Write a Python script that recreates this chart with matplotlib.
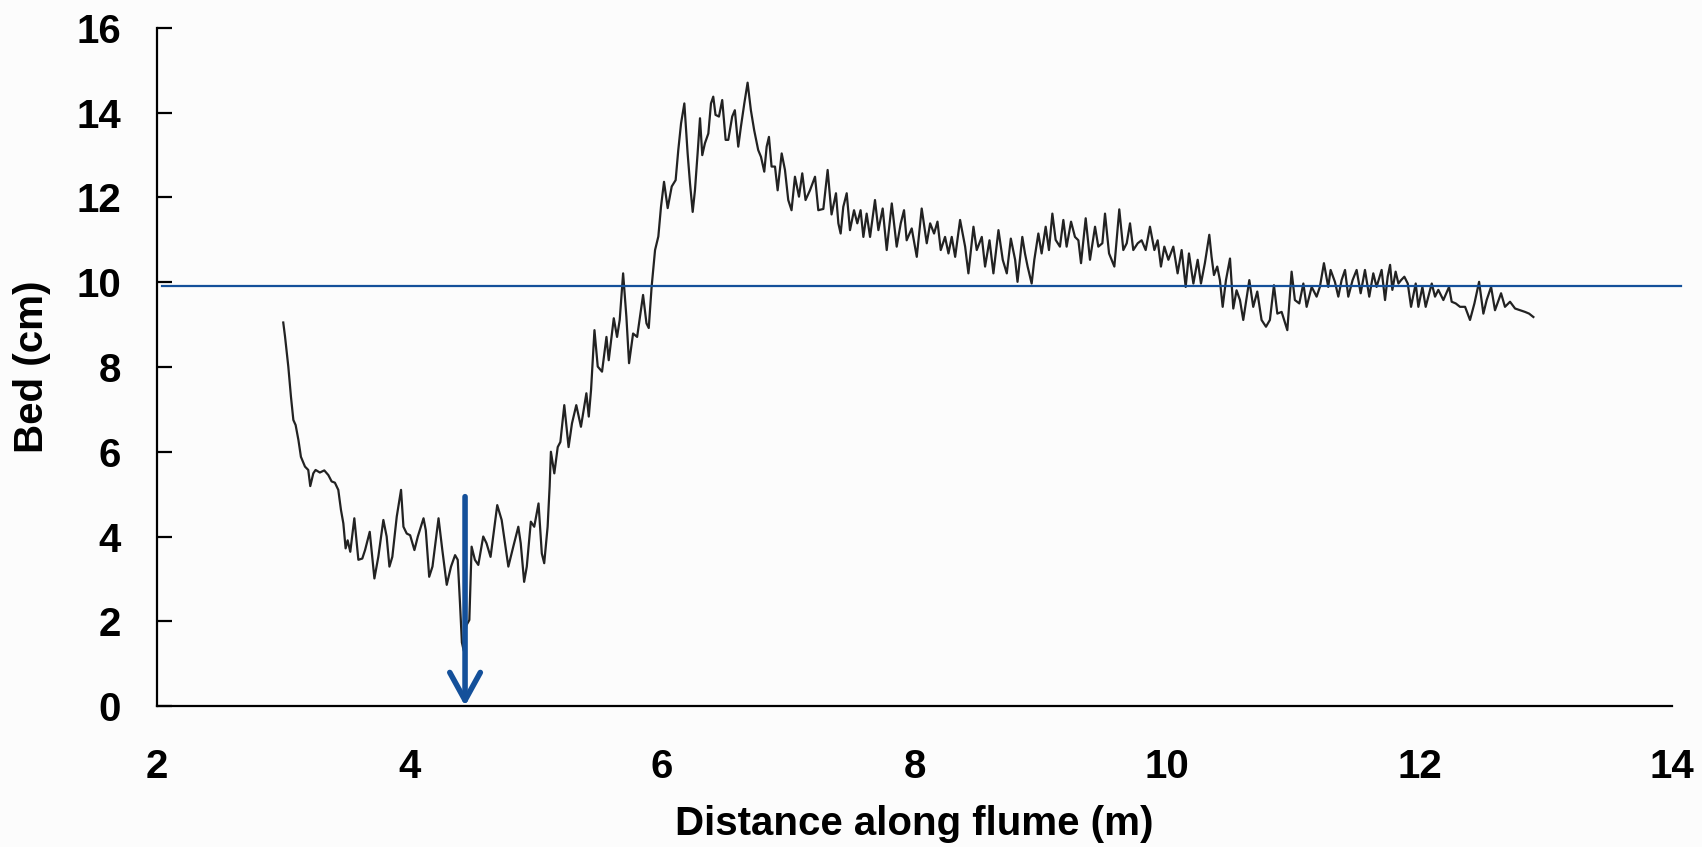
import numpy as np
import matplotlib
matplotlib.use('Agg')
import matplotlib.pyplot as plt

# bed profile (distance along flume in m, bed level in cm)
dist_m = [
    3.000, 3.014, 3.040, 3.061, 3.080, 3.098, 3.120, 3.140, 3.172, 3.198,
    3.214, 3.238, 3.256, 3.290, 3.325, 3.357, 3.383, 3.409, 3.436, 3.457,
    3.476, 3.494, 3.510, 3.531, 3.563, 3.595, 3.626, 3.648, 3.685, 3.722,
    3.753, 3.793, 3.819, 3.841, 3.864, 3.899, 3.933, 3.952, 3.978, 4.005,
    4.039, 4.066, 4.111, 4.129, 4.156, 4.182, 4.230, 4.260, 4.295, 4.329,
    4.361, 4.382, 4.400, 4.415, 4.430, 4.450, 4.474, 4.492, 4.518, 4.545,
    4.584, 4.610, 4.642, 4.695, 4.730, 4.783, 4.822, 4.862, 4.881, 4.908,
    4.929, 4.961, 4.988, 5.022, 5.048, 5.067, 5.094, 5.110, 5.120, 5.147,
    5.174, 5.195, 5.226, 5.260, 5.287, 5.321, 5.358, 5.401, 5.420, 5.438,
    5.465, 5.491, 5.525, 5.560, 5.578, 5.618, 5.644, 5.665, 5.692, 5.718,
    5.739, 5.771, 5.803, 5.850, 5.877, 5.895, 5.918, 5.945, 5.971, 5.992,
    6.016, 6.045, 6.077, 6.108, 6.129, 6.151, 6.177, 6.203, 6.222, 6.243,
    6.261, 6.282, 6.301, 6.319, 6.340, 6.367, 6.388, 6.406, 6.424, 6.451,
    6.477, 6.504, 6.525, 6.556, 6.577, 6.604, 6.625, 6.652, 6.678, 6.704,
    6.730, 6.762, 6.784, 6.810, 6.829, 6.847, 6.868, 6.895, 6.916, 6.948,
    6.974, 7.000, 7.026, 7.053, 7.085, 7.111, 7.137, 7.172, 7.212, 7.238,
    7.278, 7.312, 7.343, 7.378, 7.397, 7.415, 7.436, 7.463, 7.489, 7.521,
    7.547, 7.573, 7.595, 7.621, 7.648, 7.687, 7.714, 7.748, 7.780, 7.820,
    7.859, 7.891, 7.917, 7.938, 7.978, 8.018, 8.057, 8.097, 8.124, 8.155,
    8.182, 8.208, 8.242, 8.269, 8.295, 8.322, 8.361, 8.401, 8.427, 8.467,
    8.493, 8.533, 8.559, 8.594, 8.625, 8.665, 8.699, 8.731, 8.763, 8.797,
    8.816, 8.854, 8.875, 8.896, 8.928, 8.949, 8.981, 9.007, 9.039, 9.065,
    9.092, 9.118, 9.152, 9.179, 9.205, 9.240, 9.271, 9.298, 9.319, 9.356,
    9.390, 9.430, 9.456, 9.488, 9.509, 9.541, 9.583, 9.622, 9.654, 9.681,
    9.707, 9.733, 9.768, 9.799, 9.831, 9.865, 9.900, 9.926, 9.952, 9.979,
    10.011, 10.050, 10.084, 10.116, 10.148, 10.174, 10.209, 10.243, 10.269, 10.300,
    10.335, 10.353, 10.372, 10.398, 10.419, 10.441, 10.467, 10.499, 10.525, 10.551,
    10.578, 10.604, 10.652, 10.683, 10.715, 10.749, 10.784, 10.815, 10.847, 10.874,
    10.908, 10.953, 10.987, 11.013, 11.048, 11.080, 11.106, 11.146, 11.185, 11.211,
    11.243, 11.277, 11.296, 11.330, 11.357, 11.383, 11.410, 11.436, 11.470, 11.502,
    11.534, 11.568, 11.602, 11.634, 11.660, 11.700, 11.727, 11.748, 11.767, 11.785,
    11.811, 11.833, 11.854, 11.880, 11.907, 11.933, 11.970, 11.991, 12.023, 12.049,
    12.097, 12.123, 12.149, 12.189, 12.234, 12.255, 12.287, 12.321, 12.361, 12.400,
    12.435, 12.472, 12.506, 12.532, 12.567, 12.598, 12.646, 12.677, 12.717, 12.757,
    12.796, 12.836, 12.868, 12.902,
]
bed_cm = [
    9.05, 8.72, 8.01, 7.30, 6.75, 6.63, 6.28, 5.88, 5.65, 5.57,
    5.19, 5.49, 5.57, 5.51, 5.56, 5.45, 5.30, 5.27, 5.10, 4.63,
    4.31, 3.72, 3.91, 3.64, 4.43, 3.45, 3.48, 3.68, 4.11, 3.01,
    3.52, 4.39, 4.00, 3.29, 3.52, 4.47, 5.10, 4.23, 4.07, 4.03,
    3.68, 4.00, 4.43, 4.15, 3.05, 3.29, 4.43, 3.68, 2.86, 3.29,
    3.56, 3.45, 2.42, 1.50, 1.30, 1.90, 2.03, 3.76, 3.45, 3.33,
    4.00, 3.84, 3.52, 4.74, 4.39, 3.29, 3.76, 4.23, 3.84, 2.93,
    3.29, 4.35, 4.23, 4.78, 3.60, 3.37, 4.23, 5.18, 6.00, 5.49,
    6.11, 6.23, 7.10, 6.11, 6.67, 7.10, 6.59, 7.38, 6.83, 7.46,
    8.87, 8.01, 7.89, 8.71, 8.16, 9.15, 8.71, 9.11, 10.21, 9.18,
    8.09, 8.79, 8.71, 9.70, 9.03, 8.92, 9.90, 10.76, 11.08, 11.78,
    12.37, 11.75, 12.26, 12.41, 13.12, 13.75, 14.22, 13.04, 12.33, 11.66,
    12.17, 13.04, 13.87, 13.00, 13.28, 13.51, 14.22, 14.38, 13.95, 13.91,
    14.30, 13.36, 13.36, 13.91, 14.06, 13.20, 13.67, 14.22, 14.71, 14.06,
    13.59, 13.12, 12.96, 12.61, 13.20, 13.43, 12.73, 12.73, 12.17, 13.04,
    12.65, 11.94, 11.70, 12.49, 12.02, 12.57, 11.94, 12.17, 12.49, 11.70,
    11.73, 12.65, 11.60, 12.10, 11.39, 11.15, 11.78, 12.10, 11.23, 11.70,
    11.39, 11.70, 11.07, 11.62, 11.07, 11.94, 11.23, 11.74, 10.76, 11.86,
    10.84, 11.39, 11.70, 10.99, 11.27, 10.60, 11.74, 10.92, 11.39, 11.15,
    11.43, 10.76, 11.07, 10.68, 11.07, 10.60, 11.47, 10.84, 10.21, 11.31,
    10.76, 11.07, 10.37, 10.99, 10.21, 11.23, 10.53, 10.21, 11.03, 10.53,
    10.01, 11.07, 10.68, 10.37, 9.97, 10.53, 11.15, 10.68, 11.31, 10.76,
    11.62, 11.00, 10.84, 11.47, 10.84, 11.43, 11.07, 10.99, 10.45, 11.51,
    10.53, 11.31, 10.84, 10.92, 11.62, 10.68, 10.37, 11.72, 10.76, 10.92,
    11.39, 10.76, 10.92, 10.99, 10.76, 11.31, 10.76, 10.99, 10.37, 10.84,
    10.53, 10.84, 10.21, 10.76, 9.89, 10.68, 9.97, 10.53, 9.97, 10.45,
    11.12, 10.60, 10.17, 10.37, 10.05, 9.42, 10.05, 10.56, 9.38, 9.81,
    9.58, 9.11, 10.05, 9.42, 9.78, 9.11, 8.95, 9.11, 9.93, 9.26,
    9.30, 8.87, 10.25, 9.58, 9.50, 9.97, 9.42, 9.89, 9.66, 9.89,
    10.45, 9.89, 10.29, 10.01, 9.66, 10.05, 10.29, 9.66, 10.05, 10.29,
    9.74, 10.29, 9.66, 10.21, 9.89, 10.29, 9.58, 10.13, 10.41, 9.82,
    10.25, 9.97, 10.05, 10.13, 9.97, 9.42, 9.97, 9.42, 9.89, 9.42,
    9.97, 9.66, 9.82, 9.58, 9.89, 9.54, 9.50, 9.42, 9.42, 9.11,
    9.50, 10.01, 9.26, 9.58, 9.89, 9.34, 9.74, 9.42, 9.54, 9.38,
    9.34, 9.30, 9.26, 9.18,
]

ref_level = 9.9          # horizontal reference line (cm)
arrow_x = 4.44           # marked position (m)
arrow_top = 4.94         # arrow starts here (cm)

x_ticks = [2, 4, 6, 8, 10, 12, 14]
y_ticks = [0, 2, 4, 6, 8, 10, 12, 14, 16]

blue = '#14509a'
font = 'Liberation Sans'

fig = plt.figure(figsize=(17.02, 8.47), dpi=100)
fig.patch.set_facecolor('#fcfcfc')
ax = fig.add_axes([157 / 1702, 1 - 706 / 847, 1515 / 1702, 678 / 847])
ax.set_facecolor('#fcfcfc')

ax.plot(dist_m, bed_cm, color='#222222', lw=1.6)
ax.axhline(ref_level, xmin=0.003, xmax=1.006, color=blue, lw=1.6, clip_on=False)
ax.annotate('', xy=(arrow_x, 0), xytext=(arrow_x, arrow_top),
            arrowprops=dict(arrowstyle='->,head_length=1.0,head_width=0.55',
                            lw=4, color=blue, mutation_scale=20,
                            shrinkA=0, shrinkB=0))

ax.set_xlim(2, 14)
ax.set_ylim(0, 16)
ax.set_xticks(x_ticks)
ax.set_yticks(y_ticks)

for s in ['top', 'right']:
    ax.spines[s].set_visible(False)
for s in ['left', 'bottom']:
    ax.spines[s].set_linewidth(1.6)
    ax.spines[s].set_color('black')

ax.tick_params(axis='y', direction='in', length=11, width=1.6, pad=26)
ax.tick_params(axis='x', length=0, pad=30)
for lab in ax.get_xticklabels() + ax.get_yticklabels():
    lab.set_fontfamily(font)
    lab.set_fontweight('bold')
    lab.set_fontsize(29)

ax.set_xlabel('Distance along flume (m)', fontfamily=font, fontweight='bold',
              fontsize=29, labelpad=14)
ax.set_ylabel('Bed (cm)', fontfamily=font, fontweight='bold', fontsize=29,
              labelpad=18)

fig.savefig('out.png', dpi=100, facecolor=fig.get_facecolor())
